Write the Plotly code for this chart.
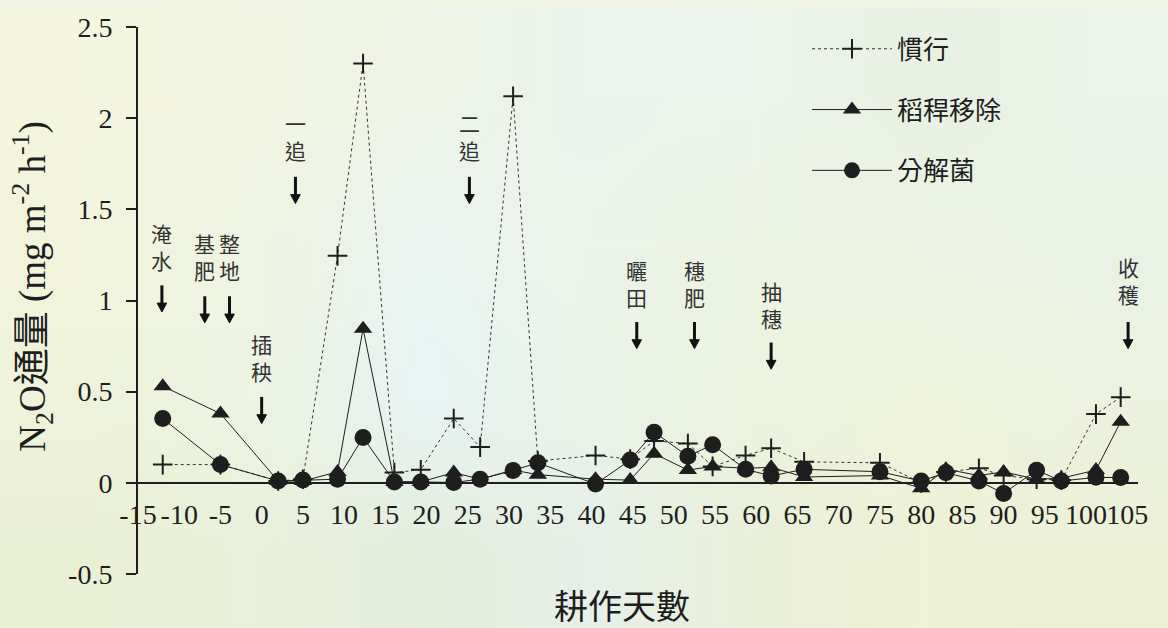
import zlib, struct, base64
import plotly.graph_objects as go

# ---------------- data ----------------
days = [-12, -5, 2, 5, 9.2, 12.3, 16.1, 19.3, 23.3, 26.5, 30.5, 33.5, 40.5, 44.7, 47.6,
        51.7, 54.7, 58.7, 61.8, 65.8, 75, 80, 83, 87, 90, 94, 97, 101.2, 104.2]
conventional = [0.10, 0.10, 0.01, 0.02, 1.245, 2.30, 0.056, 0.072, 0.353, 0.196, 2.12, 0.12,
                0.15, 0.13, 0.23, 0.216, 0.09, 0.15, 0.19, 0.115, 0.11, 0.0, 0.06, 0.08,
                0.04, 0.02, 0.015, 0.377, 0.47]
straw_removed = [0.53, 0.38, 0.01, 0.01, 0.06, 0.845, 0.005, 0.005, 0.056, 0.02, 0.07, 0.045,
                 0.02, 0.015, 0.16, 0.07, 0.09, 0.08, 0.085, 0.032, 0.04, -0.03, 0.075, 0.04,
                 0.06, 0.02, 0.025, 0.07, 0.335]
decomposer = [0.353, 0.10, 0.01, 0.015, 0.02, 0.249, 0.005, 0.005, 0.002, 0.02, 0.068, 0.11,
              -0.007, 0.125, 0.278, 0.146, 0.209, 0.074, 0.038, 0.074, 0.061, 0.01, 0.056, 0.01,
              -0.058, 0.069, 0.01, 0.03, 0.029]
series_names = ["慣行", "稻稈移除", "分解菌"]
x_ticks = list(range(-15, 106, 5))
y_ticks = [-0.5, 0, 0.5, 1, 1.5, 2, 2.5]
y_ticklabels = ["-0.5", "0", "0.5", "1", "1.5", "2", "2.5"]

# events: label, day, text-centre value, arrow-tip value
event_labels = ["淹<br>水", "基<br>肥", "整<br>地", "插<br>秧", "一<br>追", "二<br>追",
                "曬<br>田", "穗<br>肥", "抽<br>穗", "收<br>穫"]
event_days = [-12.1, -6.9, -3.9, 0.0, 4.1, 25.2, 45.5, 52.5, 61.8, 105.1]
event_text_y = [1.297, 1.243, 1.243, 0.688, 1.90, 1.90, 1.096, 1.096, 0.98, 1.107]
event_arrow_y = [0.937, 0.877, 0.877, 0.325, 1.532, 1.532, 0.736, 0.736, 0.623, 0.736]

# ---------------- background (soft blurred gradient) ----------------
bg_grid = [
    [(244, 246, 222), (243, 246, 226), (238, 244, 230), (234, 243, 236), (236, 244, 236), (232, 241, 226), (236, 243, 232)],
    [(242, 245, 220), (238, 244, 226), (234, 243, 240), (236, 244, 234), (236, 243, 226), (236, 243, 228), (234, 242, 230)],
    [(238, 243, 218), (236, 244, 226), (232, 243, 244), (234, 243, 232), (236, 243, 222), (238, 243, 218), (236, 242, 222)],
    [(234, 240, 212), (234, 241, 218), (228, 238, 220), (230, 240, 232), (234, 240, 216), (238, 242, 214), (236, 241, 214)],
]


def png_uri(rows):
    h = len(rows)
    w = len(rows[0])
    raw = b"".join(b"\x00" + bytes([c for px in row for c in px]) for row in rows)

    def chunk(t, d):
        return struct.pack(">I", len(d)) + t + d + struct.pack(">I", zlib.crc32(t + d) & 0xffffffff)

    png = (b"\x89PNG\r\n\x1a\n" + chunk(b"IHDR", struct.pack(">IIBBBBB", w, h, 8, 2, 0, 0, 0))
           + chunk(b"IDAT", zlib.compress(raw)) + chunk(b"IEND", b""))
    return "data:image/png;base64," + base64.b64encode(png).decode()


W, H = 1168, 628
ML, MR, MT, MB = 138, 30, 20, 54
PW, PH = W - ML - MR, H - MT - MB
X_RANGE = [-15, 106.3]
Y_RANGE = [-0.5, 2.5]
PX_X = PW / (X_RANGE[1] - X_RANGE[0])   # pixels per day
PX_Y = PH / (Y_RANGE[1] - Y_RANGE[0])   # pixels per unit

SERIF = "Liberation Serif, Noto Sans CJK TC"
SANS = "Noto Sans CJK TC"
INK = "#1e1e1e"

fig = go.Figure()
fig.add_trace(go.Scatter(
    x=days, y=conventional, name=series_names[0], mode="lines+markers", legendgroup="a",
    line=dict(color="#333333", width=1, dash="dot"),
    marker=dict(symbol="cross-thin", size=14, color=INK, line=dict(color=INK, width=2))))
fig.add_trace(go.Scatter(
    x=days, y=straw_removed, name=series_names[1], mode="lines+markers", legendgroup="b",
    line=dict(color=INK, width=1),
    marker=dict(symbol="triangle-up", size=16, color=INK)))
fig.add_trace(go.Scatter(
    x=days, y=decomposer, name=series_names[2], mode="lines+markers", legendgroup="c",
    line=dict(color=INK, width=1),
    marker=dict(symbol="circle", size=17, color=INK)))

annotations = []
shapes = []
ARROW_LEN = 27 / PX_Y
HEAD_H = 9 / PX_Y
HEAD_HW = 4.8 / PX_X
for lab, d, ty, ay in zip(event_labels, event_days, event_text_y, event_arrow_y):
    annotations.append(dict(x=d, y=ty, xref="x", yref="y", text=lab, showarrow=False,
                            font=dict(family=SANS, size=21, color="#333333"),
                            xanchor="center", yanchor="middle"))
    shapes.append(dict(type="line", xref="x", yref="y", x0=d, x1=d,
                       y0=ay + ARROW_LEN, y1=ay + HEAD_H * 0.6,
                       line=dict(color="#111111", width=3)))
    shapes.append(dict(type="path", xref="x", yref="y",
                       path=f"M{d - HEAD_HW},{ay + HEAD_H} L{d + HEAD_HW},{ay + HEAD_H} L{d},{ay} Z",
                       fillcolor="#111111", line=dict(color="#111111", width=1)))

annotations.append(dict(x=(32 - ML) / PW, y=(H - MB - 283) / PH, xref="paper", yref="paper",
                        text="N<sub>2</sub>O通量 (mg m<sup>-2</sup> h<sup>-1</sup>)",
                        textangle=-90, showarrow=False, xanchor="center", yanchor="middle",
                        font=dict(family=SERIF, size=37, color=INK)))
annotations.append(dict(x=(622 - ML) / PW, y=(H - MB - 605) / PH, xref="paper", yref="paper",
                        text="耕作天數", showarrow=False, xanchor="center", yanchor="middle",
                        font=dict(family=SANS, size=34, color=INK)))

fig.update_layout(
    width=W, height=H,
    margin=dict(l=ML, r=MR, t=MT, b=MB, pad=0),
    paper_bgcolor="#eef3e2",
    plot_bgcolor="rgba(0,0,0,0)",
    images=[dict(source=png_uri(bg_grid), xref="paper", yref="paper",
                 x=-ML / PW, y=1 + MT / PH, sizex=W / PW, sizey=H / PH,
                 sizing="stretch", layer="below", xanchor="left", yanchor="top")],
    showlegend=True,
    legend=dict(x=0.669, y=1.003, xanchor="left", yanchor="top", bgcolor="rgba(0,0,0,0)",
                font=dict(family=SANS, size=26, color=INK), itemwidth=80,
                tracegroupgap=24, traceorder="grouped"),
    annotations=annotations,
    shapes=shapes,
    xaxis=dict(range=X_RANGE, anchor="free", position=-Y_RANGE[0] / (Y_RANGE[1] - Y_RANGE[0]),
               showline=True, linecolor=INK, linewidth=2, showgrid=False, zeroline=False,
               tickmode="array", tickvals=x_ticks, ticktext=[str(v) for v in x_ticks],
               ticks="outside", ticklen=7, tickcolor="rgba(0,0,0,0)", tickangle=0,
               tickfont=dict(family=SERIF, size=28, color=INK)),
    yaxis=dict(range=Y_RANGE, showline=True, linecolor=INK, linewidth=2,
               showgrid=False, zeroline=False, tickmode="array", tickvals=y_ticks,
               ticktext=y_ticklabels, ticks="outside", ticklen=10, tickwidth=2,
               tickcolor=INK, ticklabelstandoff=8, tickfont=dict(family=SERIF, size=28, color=INK)),
)

fig.write_html("out.html")
